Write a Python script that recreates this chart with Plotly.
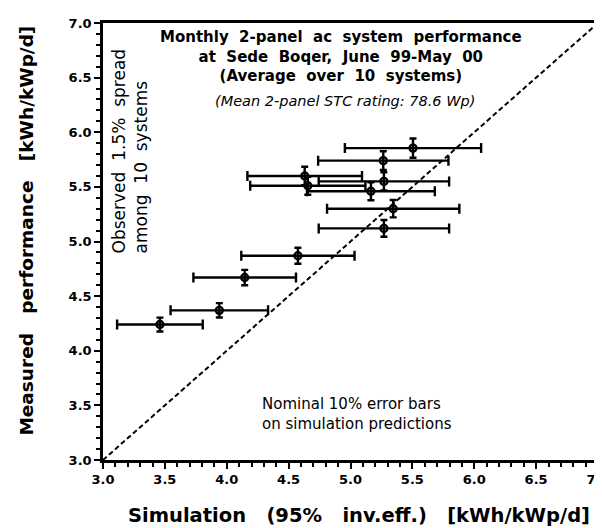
import plotly.graph_objects as go

# Monthly values (June 99 - May 00)
sim = [3.46, 3.94, 4.145, 4.575, 4.63, 4.655, 5.165, 5.27, 5.345, 5.27, 5.265, 5.505]
meas = [4.24, 4.37, 4.67, 4.87, 5.60, 5.51, 5.46, 5.12, 5.30, 5.55, 5.74, 5.855]
sim_err_pct = 10.0   # nominal error on simulation predictions
meas_err_pct = 1.5   # observed spread among 10 systems
diag = [3.0, 7.0]
tick_vals = [3.0, 3.5, 4.0, 4.5, 5.0, 5.5, 6.0, 6.5, 7.0]
tick_text = ["3.0", "3.5", "4.0", "4.5", "5.0", "5.5", "6.0", "6.5", "7.0"]

NB = "\u00a0"
FONT = "DejaVu Sans"

fig = go.Figure()
fig.add_trace(go.Scatter(
    x=diag, y=diag, mode="lines",
    line=dict(color="black", width=2, dash="5px,3px"),
    hoverinfo="skip", showlegend=False))
fig.add_trace(go.Scatter(
    x=sim, y=meas, mode="markers",
    marker=dict(symbol="circle-open", size=7, color="black", line=dict(width=2.4, color="black")),
    error_x=dict(type="percent", value=sim_err_pct, color="black", thickness=2.4, width=5),
    error_y=dict(type="percent", value=meas_err_pct, color="black", thickness=2.4, width=3.5),
    showlegend=False))

axis_common = dict(
    range=[3.0, 7.0], tickvals=tick_vals, ticktext=tick_text,
    ticks="outside", ticklen=6, tickwidth=2, tickcolor="black",
    showline=True, linewidth=2.5, linecolor="black", mirror=True,
    showgrid=False, zeroline=False, automargin=False,
    tickfont=dict(family=FONT, size=13, color="black", weight="bold"),
    minor=dict(dtick=0.1, ticks="outside", ticklen=4, tickwidth=1.5, tickcolor="black", showgrid=False),
)

fig.update_layout(
    width=602, height=528,
    margin=dict(l=95, r=12, t=15, b=76, autoexpand=False),
    paper_bgcolor="white", plot_bgcolor="white",
    xaxis=dict(**axis_common),
    yaxis=dict(**axis_common),
    font=dict(family=FONT, color="black"),
)

title_lines = [
    f"Monthly{NB*2}2-panel{NB*2}ac{NB*2}system{NB*2}performance",
    f"at{NB*2}Sede{NB*2}Boqer,{NB*2}June{NB*2}99-May{NB*2}00",
    f"(Average{NB*2}over{NB*2}10{NB*2}systems)",
]
fig.add_annotation(x=4.92, y=6.695, xref="x", yref="y", showarrow=False,
                   text="<b>" + "<br>".join(title_lines) + "</b>",
                   font=dict(family=FONT, size=15), align="center")
fig.add_annotation(x=4.955, y=6.284, xref="x", yref="y", showarrow=False,
                   text="<i>(Mean 2-panel STC rating: 78.6 Wp)</i>",
                   font=dict(family=FONT, size=14.5))
fig.add_annotation(x=3.22, y=4.87, xref="x", yref="y", showarrow=False,
                   text=f"Observed{NB*2}1.5%{NB*2}spread<br>among{NB*2}10{NB*2}systems",
                   textangle=-90, align="left", yanchor="bottom", xanchor="center",
                   font=dict(family=FONT, size=17))
fig.add_annotation(x=4.27, y=3.425, xref="x", yref="y", showarrow=False,
                   text=f"Nominal{NB}10%{NB}error{NB}bars<br>on{NB}simulation{NB}predictions",
                   align="left", xanchor="left", yanchor="middle",
                   font=dict(family=FONT, size=15))

fig.add_annotation(x=0.517, y=-0.128, xref="paper", yref="paper", showarrow=False,
                   text=f"<b>Simulation{NB*3}(95%{NB*3}inv.eff.){NB*3}[kWh/kWp/d]</b>",
                   font=dict(family=FONT, size=19.5), xanchor="center", yanchor="middle")
fig.add_annotation(x=-0.1535, y=0.525, xref="paper", yref="paper", showarrow=False,
                   text=f"<b>Measured{NB*3}performance{NB*3}[kWh/kWp/d]</b>",
                   textangle=-90, font=dict(family=FONT, size=18.5),
                   xanchor="center", yanchor="middle")

fig.write_html("out.html")
